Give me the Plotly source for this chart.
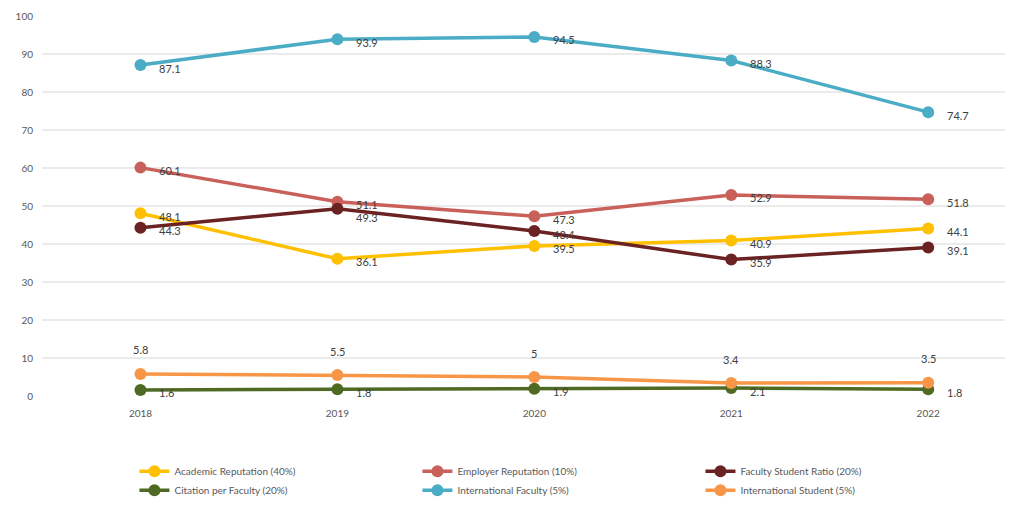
import plotly.graph_objects as go

years = ["2018", "2019", "2020", "2021", "2022"]
academic = [48.1, 36.1, 39.5, 40.9, 44.1]
employer = [60.1, 51.1, 47.3, 52.9, 51.8]
fsr = [44.3, 49.3, 43.4, 35.9, 39.1]
citation = [1.6, 1.8, 1.9, 2.1, 1.8]
intl_fac = [87.1, 93.9, 94.5, 88.3, 74.7]
intl_stu = [5.8, 5.5, 5, 3.4, 3.5]
y_ticks = [0, 10, 20, 30, 40, 50, 60, 70, 80, 90, 100]

series = [
    ("Academic Reputation (40%)", academic, "#FFC000", "right"),
    ("Employer Reputation (10%)", employer, "#C9605A", "right"),
    ("Faculty Student Ratio (20%)", fsr, "#6B2222", "right"),
    ("Citation per Faculty (20%)", citation, "#4F6A22", "right"),
    ("International Faculty (5%)", intl_fac, "#4BACC6", "right"),
    ("International Student (5%)", intl_stu, "#F79646", "above"),
]

fig = go.Figure()
annotations = []
for name, vals, color, pos in series:
    fig.add_trace(go.Scatter(
        x=years, y=vals, name=name, mode="lines+markers",
        line=dict(color=color, width=3.5),
        marker=dict(color=color, size=12),
    ))
    for i, yv in enumerate(vals):
        if pos == "right":
            ys = -3
            # nudge the one crowded label (Faculty Student Ratio 2019) slightly down
            if name.startswith("Faculty Student") and i == 1:
                ys = -9
            annotations.append(dict(x=i, y=yv, xref="x", yref="y", text=f"{yv:g}", showarrow=False,
                                    xanchor="left", yanchor="middle", xshift=17, yshift=ys,
                                    font=dict(size=11, color="#404040")))
        else:
            annotations.append(dict(x=i, y=yv, xref="x", yref="y", text=f"{yv:g}", showarrow=False,
                                    xanchor="center", yanchor="middle", yshift=24,
                                    font=dict(size=11, color="#404040")))

fig.update_layout(
    width=1015, height=510,
    margin=dict(l=34, r=18, t=8, b=122, autoexpand=False),
    paper_bgcolor="white", plot_bgcolor="white",
    font=dict(family="Lato, Open Sans, sans-serif", size=10, color="#595959"),
    annotations=annotations,
    showlegend=True,
    legend=dict(orientation="h", x=0.096, y=0.12, xref="paper", yref="container",
                xanchor="left", yanchor="top",
                entrywidth=238, entrywidthmode="pixels", tracegroupgap=0,
                font=dict(size=10, color="#595959"), traceorder="normal"),
    xaxis=dict(type="category", range=[-0.5, 4.39], showgrid=False, zeroline=False,
               showline=False, ticks="", tickfont=dict(size=10, color="#595959"),
               ticklabelstandoff=10, automargin=False),
    yaxis=dict(range=[0, 100], tickvals=y_ticks, showgrid=True, gridcolor="#EBEBEB",
               gridwidth=2, zeroline=False, showline=False, ticks="",
               tickfont=dict(size=10, color="#595959"), ticklabelstandoff=8,
               automargin=False),
)

fig.write_html("out.html")
